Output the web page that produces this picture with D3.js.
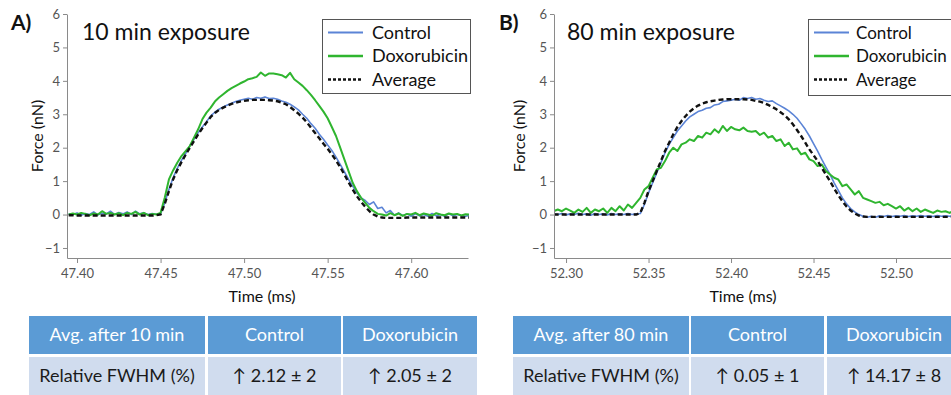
<!DOCTYPE html>
<html>
<head>
<meta charset="utf-8">
<script src="https://cdn.jsdelivr.net/npm/d3@7"></script>
<style>
  body { margin: 0; background: #fff; }
  svg { display: block; }
  text { font-family: Lato, "DejaVu Sans", sans-serif; }
</style>
</head>
<body>
<svg id="fig" width="951" height="395"></svg>
<script>
// ---- Sampled force traces (nN), one sample every dt ms ----
const dt = 0.0025;

// Panel A: 10 min exposure, samples start at 47.395 ms
const tStartA = 47.395;
const controlA = [
  0.02, 0.0, 0.05, -0.02, 0.03, 0.0, 0.08, -0.01, 0.04, 0.02, 0.1, 0.0, 0.06, 0.02, 0.08, 0.0, 0.1, 0.02, 0.05, 0.0, 0.03, 0.01,
  0.02, 0.35, 0.75, 1.1, 1.38, 1.62, 1.82, 2.05, 2.25, 2.45, 2.62, 2.78, 2.95, 3.06, 3.15, 3.22, 3.28, 3.33, 3.38, 3.42,
  3.45, 3.48, 3.45, 3.5, 3.48, 3.52, 3.47, 3.48, 3.45, 3.4, 3.36, 3.3, 3.22, 3.13, 3.0, 2.88, 2.72, 2.58, 2.4, 2.25,
  2.08, 1.92, 1.72, 1.5, 1.28, 1.05, 0.85, 0.65, 0.5, 0.42, 0.3, 0.38, 0.18, 0.22, 0.05, 0.12, -0.02, 0.05, -0.03, 0.02,
  -0.05, 0.02, -0.04, 0.0, -0.05, 0.03, -0.04, 0.0, -0.05, 0.02, -0.04, 0.0, -0.03, -0.05, -0.02
];
const doxoA = [
  0.0, 0.03, 0.0, 0.05, 0.02, -0.02, 0.03, 0.0, 0.1, 0.02, 0.05, 0.0, 0.04, -0.02, 0.05, 0.02, 0.08, 0.0, 0.05, -0.02, 0.02, 0.0,
  0.05, 0.5, 1.05, 1.32, 1.55, 1.75, 1.9, 2.05, 2.3, 2.55, 2.85, 3.05, 3.2, 3.38, 3.5, 3.6, 3.7, 3.78, 3.85, 3.92,
  3.98, 4.05, 4.08, 4.12, 4.25, 4.15, 4.22, 4.22, 4.2, 4.17, 4.1, 4.24, 4.05, 3.95, 3.85, 3.72, 3.58, 3.42, 3.25, 3.08,
  2.88, 2.62, 2.35, 2.0, 1.65, 1.3, 0.95, 0.7, 0.5, 0.35, 0.2, 0.1, 0.02,
  0.0, -0.03, 0.04, -0.02, 0.03, -0.04, 0.02, 0.0, 0.05, -0.02, 0.03, 0.0, -0.03, 0.04, 0.0, -0.02, 0.03, 0.0, 0.02, -0.03, 0.01, 0.0
];
const averageA = [
  -0.02, -0.02, -0.03, -0.03, -0.03, -0.03, -0.03, -0.03, -0.03, -0.03, -0.03, -0.03, -0.03, -0.03, -0.03, -0.03, -0.03, -0.03, -0.03, -0.03, -0.03, -0.02,
  0.0, 0.32, 0.7, 1.05, 1.33, 1.57, 1.79, 2.0, 2.2, 2.4, 2.58, 2.75, 2.92, 3.04, 3.13, 3.2, 3.26, 3.31, 3.35, 3.38,
  3.4, 3.42, 3.43, 3.43, 3.43, 3.43, 3.42, 3.41, 3.39, 3.35, 3.3, 3.22, 3.12, 3.02, 2.9, 2.76, 2.6, 2.44, 2.28, 2.12,
  1.97, 1.8, 1.62, 1.42, 1.2, 0.97, 0.75, 0.55, 0.38, 0.23, 0.1, 0.0, -0.06, -0.09,
  -0.1, -0.1, -0.1, -0.1, -0.1, -0.09, -0.09, -0.09, -0.09, -0.09, -0.09, -0.09, -0.09, -0.09, -0.09, -0.09, -0.09, -0.09, -0.09, -0.09, -0.09
];

// Panel B: 80 min exposure, samples start at 52.2925 ms
const tStartB = 52.2925;
const controlB = [
  0.02, 0.0, 0.03, -0.01, 0.02, 0.0, 0.04, 0.0, 0.02, -0.02, 0.03, 0.0, 0.02, -0.01, 0.03, 0.0, 0.02, 0.0, 0.03, 0.0, 0.02,
  0.03, 0.3, 0.65, 0.95, 1.25, 1.55, 1.85, 2.1, 2.3, 2.5, 2.65, 2.8, 2.92, 3.0, 3.08, 3.12, 3.18, 3.2, 3.28,
  3.3, 3.38, 3.4, 3.42, 3.45, 3.42, 3.5, 3.47, 3.5, 3.45, 3.47, 3.42, 3.38, 3.4, 3.32, 3.25, 3.18, 3.1, 3.0, 2.88,
  2.72, 2.55, 2.35, 2.12, 1.9, 1.65, 1.42, 1.2, 0.95, 0.72, 0.5, 0.32, 0.18, 0.08, 0.0, -0.05, -0.08, -0.05, -0.08, -0.04,
  -0.06, -0.03, -0.06, -0.04, -0.05, -0.03, -0.06, -0.04, -0.05, -0.03, -0.05, -0.04, -0.06, -0.03, -0.05, -0.04, -0.05, -0.03, -0.05
];
const doxoB = [
  0.1, 0.15, 0.1, 0.18, 0.12, 0.05, 0.15, 0.08, 0.2, 0.05, 0.15, 0.1, 0.18, 0.05, 0.2, 0.1, 0.25, 0.12, 0.3, 0.2,
  0.35, 0.5, 0.75, 0.85, 1.1, 1.35, 1.4, 1.6, 1.85, 2.0, 1.9, 2.1, 2.15, 2.25, 2.2, 2.35, 2.3, 2.45, 2.4, 2.55,
  2.45, 2.65, 2.5, 2.62, 2.55, 2.52, 2.6, 2.5, 2.48, 2.5, 2.38, 2.45, 2.3, 2.35, 2.2, 2.25, 2.05, 2.15, 1.95, 1.98,
  1.8, 1.85, 1.65, 1.6, 1.45, 1.5, 1.3, 1.2, 1.1, 1.05, 0.85, 0.9, 0.75, 0.6, 0.7, 0.5, 0.45, 0.4, 0.35, 0.38,
  0.28, 0.32, 0.25, 0.18, 0.25, 0.12, 0.2, 0.1, 0.18, 0.08, 0.15, 0.1, 0.05, 0.12, 0.08, 0.1, 0.05, 0.12, 0.08, 0.1
];
const averageB = [
  0.0, 0.0, 0.0, 0.0, 0.0, 0.0, 0.0, 0.0, 0.0, 0.0, 0.0, 0.0, 0.0, 0.0, 0.0, 0.0, 0.0, 0.0, 0.0, 0.0, 0.0,
  0.05, 0.35, 0.7, 1.0, 1.3, 1.6, 1.9, 2.15, 2.4, 2.62, 2.8, 2.95, 3.08, 3.18, 3.26, 3.32, 3.36, 3.39, 3.41,
  3.43, 3.44, 3.45, 3.45, 3.45, 3.45, 3.45, 3.44, 3.43, 3.4, 3.38, 3.34, 3.28, 3.22, 3.15, 3.06, 2.97, 2.85, 2.7, 2.53,
  2.35, 2.15, 1.95, 1.78, 1.6, 1.4, 1.2, 1.0, 0.78, 0.58, 0.4, 0.24, 0.12, 0.03, -0.03, -0.06,
  -0.07, -0.07, -0.07, -0.07, -0.07, -0.07, -0.07, -0.07, -0.07, -0.07, -0.07, -0.07, -0.07, -0.07, -0.07, -0.07, -0.07, -0.07, -0.07, -0.07, -0.07, -0.07, -0.07, -0.07
];

// ---- Axis ticks and labels ----
const yTicks = [-1, 0, 1, 2, 3, 4, 5, 6];
const xTicksA = [47.40, 47.45, 47.50, 47.55, 47.60];
const xTicksB = [52.30, 52.35, 52.40, 52.45, 52.50];
const seriesNames = ["Control", "Doxorubicin", "Average"];

// ---- Summary tables ----
const headerA = ["Avg. after 10 min", "Control", "Doxorubicin"];
const rowA = ["Relative FWHM (%)", "\u2191 2.12 \u00b1 2", "\u2191 2.05 \u00b1 2"];
const headerB = ["Avg. after 80 min", "Control", "Doxorubicin"];
const rowB = ["Relative FWHM (%)", "\u2191 0.05 \u00b1 1", "\u2191 14.17 \u00b1 8"];

// ---- Styles ----
const colors = { control: "#5b84d6", doxo: "#2fb52f", average: "#111111" };
const axisGray = "#8a8a8a";
const tickText = "#555555";

const svg = d3.select("#fig");
svg.append("rect").attr("width", 951).attr("height", 395).attr("fill", "#fff");

function toPoints(values, t0) {
  return values.map((v, i) => [t0 + i * dt, v]);
}

function drawPanel(p) {
  const g = svg.append("g");
  const x = d3.scaleLinear().domain(p.xDomain).range(p.xRange);
  const y = d3.scaleLinear().domain([-1.3, 6]).range([258, 14]);

  // axes
  const yAxis = d3.axisLeft(y).tickValues(yTicks).tickSize(4).tickSizeOuter(0).tickFormat(d3.format("d"));
  const xAxis = d3.axisBottom(x).tickValues(p.xTicks).tickSize(5).tickSizeOuter(0).tickFormat(d3.format(".2f"));

  const ya = g.append("g").attr("transform", `translate(${p.xRange[0]},0)`).call(yAxis);
  const xa = g.append("g").attr("transform", `translate(0,258)`).call(xAxis);
  [ya, xa].forEach(a => {
    a.select(".domain").attr("stroke", axisGray);
    a.selectAll(".tick line").attr("stroke", axisGray);
    a.selectAll(".tick text").attr("fill", tickText).style("font-size", "13px");
  });
  ya.selectAll(".tick text").attr("x", -7);
  xa.selectAll(".tick text").attr("y", 11);

  // axis titles
  g.append("text").attr("x", p.xTitleX).attr("y", 302).attr("text-anchor", "middle")
    .style("font-size", "16px").attr("fill", "#111").text("Time (ms)");
  g.append("text").attr("transform", `translate(${p.yTitleX},136) rotate(-90)`).attr("text-anchor", "middle")
    .style("font-size", "16px").attr("fill", "#111").text("Force (nN)");

  // panel letter and title
  g.append("text").attr("x", p.letterX).attr("y", 30).style("font-size", "21px").style("font-weight", "bold")
    .attr("fill", "#111").text(p.letter);
  g.append("text").attr("x", p.titleX).attr("y", 40).style("font-size", "23px")
    .attr("fill", "#111").text(p.title);

  // traces
  const clipId = "clip" + p.letter.replace(")", "");
  svg.append("clipPath").attr("id", clipId).append("rect")
    .attr("x", p.xRange[0] + 1).attr("y", 0).attr("width", p.xRange[1] - p.xRange[0]).attr("height", 258);
  const line = d3.line().x(d => x(d[0])).y(d => y(d[1])).curve(d3.curveLinear);
  const lines = g.append("g").attr("clip-path", `url(#${clipId})`);
  lines.append("path").datum(toPoints(p.control, p.t0)).attr("d", line)
    .attr("fill", "none").attr("stroke", colors.control).attr("stroke-width", 1.6).attr("stroke-linejoin", "round");
  lines.append("path").datum(toPoints(p.doxo, p.t0)).attr("d", line)
    .attr("fill", "none").attr("stroke", colors.doxo).attr("stroke-width", 2).attr("stroke-linejoin", "round");
  lines.append("path").datum(toPoints(p.average, p.t0)).attr("d", line)
    .attr("fill", "none").attr("stroke", colors.average).attr("stroke-width", 2.4).attr("stroke-dasharray", "5,3");

  // legend
  const lg = g.append("g").attr("transform", `translate(${p.legendX},19)`);
  lg.append("rect").attr("x", 0.5).attr("y", 0.5).attr("width", 148).attr("height", p.legendH)
    .attr("fill", "#fff").attr("stroke", "#555").attr("stroke-width", 1);
  const legendStyles = [
    { c: colors.control, w: 2, dash: null },
    { c: colors.doxo, w: 2.5, dash: null },
    { c: colors.average, w: 2.5, dash: "3,2" }
  ];
  seriesNames.forEach((name, i) => {
    const yy = 13.5 + i * 23.5;
    const s = legendStyles[i];
    const ln = lg.append("line").attr("x1", 6).attr("x2", 41).attr("y1", yy).attr("y2", yy)
      .attr("stroke", s.c).attr("stroke-width", s.w);
    if (s.dash) ln.attr("stroke-dasharray", s.dash);
    lg.append("text").attr("x", p.legendTextX).attr("y", yy + 6).style("font-size", p.legendFont)
      .attr("fill", "#111").text(name);
  });

  // summary table
  const tg = svg.append("g");
  const colX = p.tableCols;
  const widths = [176, 133, 134];
  const cells = [p.header, p.row];
  const rowsY = [[316, 38], [357, 38]];
  cells.forEach((r, ri) => {
    r.forEach((txt, ci) => {
      tg.append("rect").attr("x", colX[ci]).attr("y", rowsY[ri][0]).attr("width", widths[ci]).attr("height", rowsY[ri][1])
        .attr("fill", ri === 0 ? "#5b9bd5" : "#d0dcee");
      tg.append("text").attr("x", colX[ci] + widths[ci] / 2).attr("y", rowsY[ri][0] + 25)
        .attr("text-anchor", "middle").style("font-size", "18px")
        .attr("fill", ri === 0 ? "#fff" : "#1a1a1a").text(txt);
    });
  });
}

drawPanel({
  letter: "A)", letterX: 11, title: "10 min exposure", titleX: 82,
  xDomain: [47.394, 47.634], xRange: [67, 468], xTicks: xTicksA,
  xTitleX: 262, yTitleX: 43,
  t0: tStartA, control: controlA, doxo: doxoA, average: averageA,
  legendX: 322, legendH: 74, legendTextX: 50, legendFont: "18px",
  header: headerA, row: rowA, tableCols: [29, 208, 343]
});

drawPanel({
  letter: "B)", letterX: 499, title: "80 min exposure", titleX: 567,
  xDomain: [52.2927, 52.54], xRange: [554, 962], xTicks: xTicksB,
  xTitleX: 743, yTitleX: 525,
  t0: tStartB, control: controlB, doxo: doxoB, average: averageB,
  legendX: 808, legendH: 76, legendTextX: 48, legendFont: "17px",
  header: headerB, row: rowB, tableCols: [513, 691, 827]
});
</script>
</body>
</html>
